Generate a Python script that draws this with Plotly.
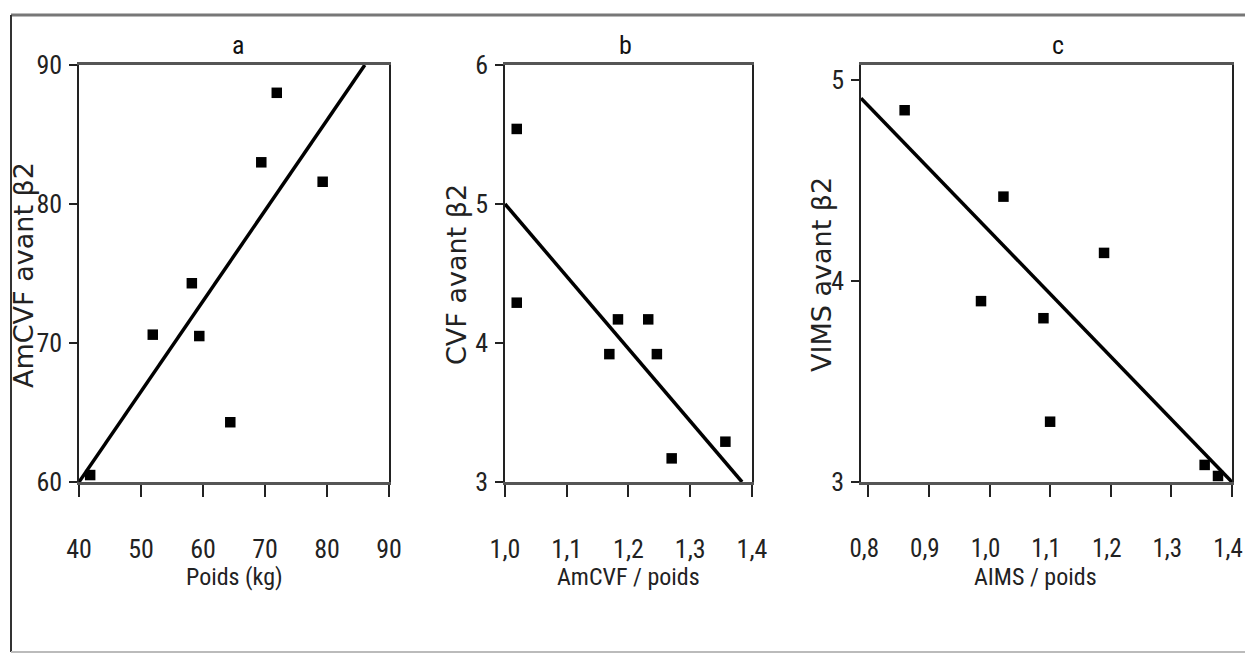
import plotly.graph_objects as go

# ---- data ----
# panel a
a_x = [41.8, 51.9, 58.2, 59.4, 64.4, 69.4, 71.9, 79.3]
a_y = [60.5, 70.6, 74.3, 70.5, 64.3, 83.0, 88.0, 81.6]
a_fit_x = [40, 86.1]
a_fit_y = [60, 90]
# panel b
b_x = [1.019, 1.019, 1.169, 1.183, 1.232, 1.246, 1.270, 1.357]
b_y = [5.54, 4.29, 3.92, 4.17, 4.17, 3.92, 3.17, 3.29]
b_fit_x = [1.0, 1.384]
b_fit_y = [5.0, 3.0]
# panel c
c_x = [0.860, 0.986, 1.023, 1.089, 1.100, 1.189, 1.355, 1.377]
c_y = [4.85, 3.90, 4.42, 3.815, 3.30, 4.14, 3.085, 3.03]
c_fit_x = [0.788, 1.40]
c_fit_y = [4.91, 3.0]

a_ticks = [40, 50, 60, 70, 80, 90]
b_ticks = [1.0, 1.1, 1.2, 1.3, 1.4]
c_ticks = [0.8, 0.9, 1.0, 1.1, 1.2, 1.3, 1.4]
a_yticks = [60, 70, 80, 90]
b_yticks = [3, 4, 5, 6]
c_yticks = [3, 4, 5]

panel_titles = ["a", "b", "c"]
x_titles = ["Poids (kg)", "AmCVF / poids", "AIMS / poids"]
y_titles = ["AmCVF avant \u03b22", "CVF avant \u03b22", "VIMS avant \u03b22"]

def fr(t):
    return f"{t:.1f}".replace(".", ",")

# page body margin is removed by the post script, so the figure fills the window
OFF = 0
W, H = 1245, 655

def PX(X):
    return (X - OFF) / W

def PY(Y):
    return (H - (Y - OFF)) / H

NARROW = "Liberation Sans Narrow, Arial Narrow, Roboto Condensed, Liberation Sans, Arial, sans-serif"
WIDE = "DejaVu Sans, Liberation Sans, Arial, sans-serif"

fig = go.Figure()

panels = [
    (a_x, a_y, a_fit_x, a_fit_y, "x", "y"),
    (b_x, b_y, b_fit_x, b_fit_y, "x2", "y2"),
    (c_x, c_y, c_fit_x, c_fit_y, "x3", "y3"),
]
for px, py, fx, fy, xa, ya in panels:
    fig.add_trace(go.Scatter(x=fx, y=fy, mode="lines", xaxis=xa, yaxis=ya,
                             line=dict(color="black", width=3.5), showlegend=False))
    fig.add_trace(go.Scatter(x=px, y=py, mode="markers", xaxis=xa, yaxis=ya,
                             marker=dict(symbol="square", size=10.5, color="black"),
                             showlegend=False, cliponaxis=False))

# pixel boxes (window pixels)
boxes = [(79, 389), (505, 752), (861, 1232)]
ytop, ybot = 65, 482
ydom = [PY(ybot), PY(ytop)]

xranges = [[40, 90.001], [1.0, 1.4001], [0.788, 1.4001]]
yranges = [[60, 90], [3, 6], [3, 5.075]]
xticks = [a_ticks, b_ticks, c_ticks]
yticks = [a_yticks, b_yticks, c_yticks]

def xaxis_cfg(i):
    lab = [str(t) for t in xticks[i]] if i == 0 else [fr(t) for t in xticks[i]]
    cfg = dict(domain=[PX(boxes[i][0]), PX(boxes[i][1])], range=xranges[i],
               anchor=["y", "y2", "y3"][i], showgrid=False, zeroline=False,
               automargin=False, ticklabeloverflow="allow",
               showline=True, linecolor="#555555", linewidth=3, mirror=True,
               ticks="outside", ticklen=12, tickwidth=1.5, tickcolor="#222",
               tickvals=xticks[i], ticktext=lab, ticklabelstandoff=30,
               tickfont=dict(family=NARROW, size=26, color="#222"))
    if i == 2:
        cfg["tickfont"]["size"] = 25
        cfg["ticklabelshift"] = -4
    return cfg

def yaxis_cfg(i):
    return dict(domain=ydom, range=yranges[i], anchor=["x", "x2", "x3"][i],
                showgrid=False, zeroline=False, automargin=False,
                ticklabeloverflow="allow",
                showline=True, linecolor="#222", linewidth=1.5, mirror=True,
                ticks="outside", ticklen=8, tickwidth=1.5, tickcolor="#222",
                tickvals=yticks[i], ticktext=[str(t) for t in yticks[i]],
                ticklabelstandoff=2,
                tickfont=dict(family=NARROW, size=26, color="#222"))

annotations = []
title_x = [238, 625, 1058]
xt_x = [235, 628, 1035]
yt_x = [23, 456, 821]
for i in range(3):
    annotations.append(dict(x=PX(title_x[i]), y=PY(45), xref="paper", yref="paper",
                            xanchor="center", yanchor="middle",
                            text=panel_titles[i], showarrow=False,
                            font=dict(family=NARROW, size=26, color="#111")))
    annotations.append(dict(x=PX(xt_x[i]), y=PY(577), xref="paper", yref="paper",
                            xanchor="center", yanchor="middle",
                            text=x_titles[i], showarrow=False,
                            font=dict(family=NARROW, size=24, color="#222")))
    annotations.append(dict(x=PX(yt_x[i]), y=PY(275), xref="paper", yref="paper",
                            xanchor="center", yanchor="middle",
                            text=y_titles[i], showarrow=False, textangle=-90,
                            font=dict(family=WIDE, size=27, color="#222")))

shapes = [
    dict(type="line", xref="paper", yref="paper", x0=PX(11), x1=1.0,
         y0=PY(15), y1=PY(15), line=dict(color="#777", width=3)),
    dict(type="line", xref="paper", yref="paper", x0=PX(11), x1=PX(11),
         y0=PY(15), y1=PY(652), line=dict(color="#333", width=2)),
    dict(type="line", xref="paper", yref="paper", x0=PX(11), x1=1.0,
         y0=PY(652), y1=PY(652), line=dict(color="#bbb", width=2)),
]

fig.update_layout(
    template="none",
    width=W, height=H, margin=dict(l=0, r=0, t=0, b=0, pad=0, autoexpand=False),
    paper_bgcolor="white", plot_bgcolor="white",
    xaxis=xaxis_cfg(0), xaxis2=xaxis_cfg(1), xaxis3=xaxis_cfg(2),
    yaxis=yaxis_cfg(0), yaxis2=yaxis_cfg(1), yaxis3=yaxis_cfg(2),
    annotations=annotations, shapes=shapes, showlegend=False,
)

fig.write_html(
    "out.html",
    config={"displayModeBar": False},
    post_script="document.body.style.margin='0';document.body.style.overflow='hidden';",
)
